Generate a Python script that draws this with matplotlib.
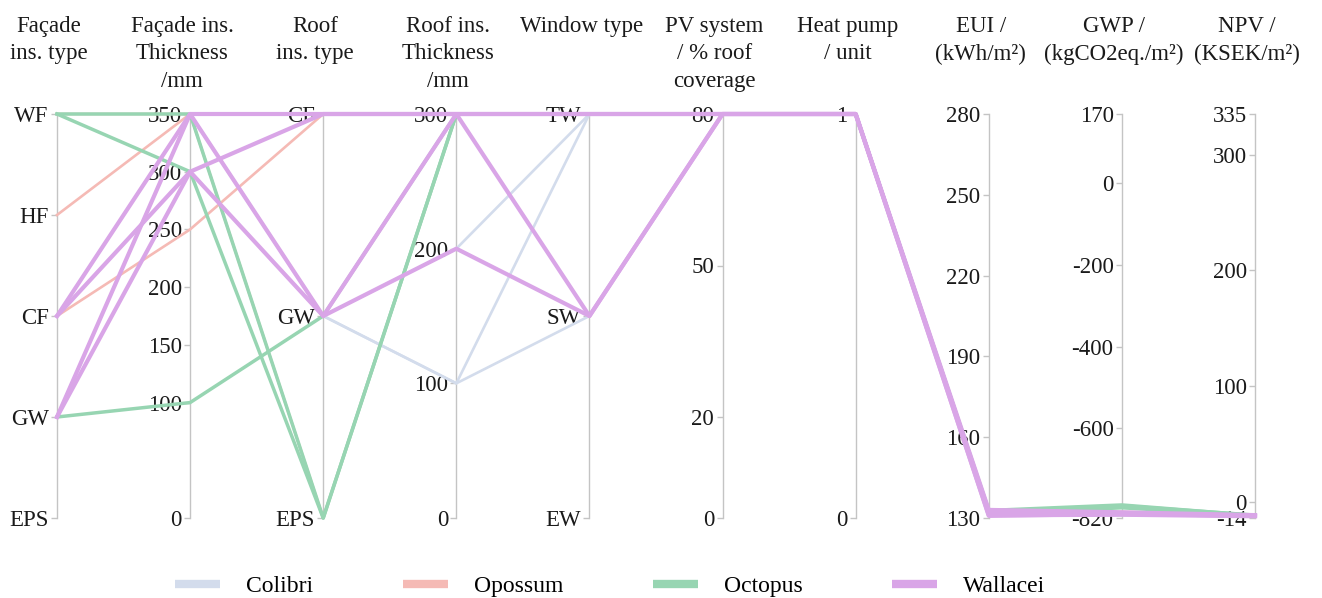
import numpy as np
import matplotlib
matplotlib.use('Agg')
import matplotlib.pyplot as plt
from matplotlib.lines import Line2D

plt.rcParams['font.family'] = ['Liberation Serif', 'DejaVu Serif']

# axis titles, left to right
titles = ['Façade\nins. type', 'Façade ins.\nThickness\n/mm', 'Roof\nins. type',
          'Roof ins.\nThickness\n/mm', 'Window type', 'PV system\n/ % roof\ncoverage',
          'Heat pump\n/ unit', 'EUI /\n(kWh/m²)', 'GWP /\n(kgCO2eq./m²)', 'NPV /\n(KSEK/m²)']

facade_types = ['EPS', 'GW', 'CF', 'HF', 'WF']
roof_types = ['EPS', 'GW', 'CF']
window_types = ['EW', 'SW', 'TW']
categories = {0: facade_types, 2: roof_types, 4: window_types}

y_min = [0, 0, 0, 0, 0, 0, 0, 130, -820, -14]
y_max = [4, 350, 2, 300, 2, 80, 1, 280, 170, 335]
ticks = [None,
         [0, 100, 150, 200, 250, 300, 350],
         None,
         [0, 100, 200, 300],
         None,
         [0, 20, 50, 80],
         [0, 1],
         [130, 160, 190, 220, 250, 280],
         [-820, -600, -400, -200, 0, 170],
         [-14, 0, 100, 200, 300, 335]]

# one row per design: façade type, façade thk, roof type, roof thk, window,
# PV %, heat pump, EUI, GWP, NPV
colibri = [
    ['GW', 350, 'GW', 100, 'TW', 80, 1, 131.5, -812, -12],
    ['CF', 300, 'GW', 100, 'SW', 80, 1, 131.8, -810, -12],
    ['CF', 350, 'GW', 200, 'TW', 80, 1, 131.2, -813, -12.5],
]
opossum = [
    ['HF', 350, 'CF', 300, 'TW', 80, 1, 132.0, -808, -11.5],
    ['CF', 250, 'CF', 300, 'TW', 80, 1, 132.2, -806, -11.5],
    ['WF', 350, 'EPS', 300, 'TW', 80, 1, 132.4, -805, -11],
]
octopus = [
    ['WF', 350, 'EPS', 300, 'TW', 80, 1, 132.5, -790, -11.5],
    ['WF', 300, 'EPS', 300, 'TW', 80, 1, 132.8, -788, -11.8],
    ['GW', 100, 'GW', 300, 'TW', 80, 1, 131.5, -795, -12],
]
wallacei = [
    ['CF', 350, 'CF', 300, 'TW', 80, 1, 133.0, -806, -11.5],
    ['CF', 300, 'GW', 300, 'SW', 80, 1, 132.0, -808, -12],
    ['GW', 350, 'GW', 200, 'SW', 80, 1, 131.0, -812, -12.5],
    ['GW', 300, 'CF', 300, 'TW', 80, 1, 130.8, -810, -12],
]

series = [('Colibri', colibri, '#d3dcec', 1.9),
          ('Opossum', opossum, '#f5bab5', 1.9),
          ('Octopus', octopus, '#97d5b2', 2.5),
          ('Wallacei', wallacei, '#d9a5e7', 3.0)]


def to_number(i, v):
    if i in categories:
        return categories[i].index(v)
    return v


def normalise(row):
    out = []
    for i, v in enumerate(row):
        x = to_number(i, v)
        out.append((x - y_min[i]) / (y_max[i] - y_min[i]))
    return out


fig = plt.figure(figsize=(13.22, 5.98), dpi=100)
left, right = 57 / 1322, 1255 / 1322
bottom, top = 1 - 518 / 598, 1 - 114 / 598
rect = [left, bottom, right - left, top - bottom]
n = len(titles)

host = fig.add_axes(rect)
host.set_xlim(0, n - 1)
host.axis('off')

# one y axis per variable
for i in range(n):
    ax = host.twinx()
    ax.set_ylim(y_min[i], y_max[i])
    for s in ['top', 'right', 'bottom']:
        ax.spines[s].set_visible(False)
    ax.spines['left'].set_position(('data', i))
    ax.spines['left'].set_color('#c4c4c4')
    ax.spines['left'].set_linewidth(1.0)
    ax.yaxis.set_ticks_position('left')
    ax.yaxis.set_label_position('left')
    ax.patch.set_visible(False)
    if i in categories:
        ax.set_yticks(range(len(categories[i])))
        ax.set_yticklabels(categories[i])
    else:
        ax.set_yticks(ticks[i])
        ax.set_yticklabels([str(t) for t in ticks[i]])
    ax.tick_params(axis='y', length=4, width=1, color='#c4c4c4',
                   labelsize=16.5, labelcolor='#1a1a1a', pad=2)
    fig.text(left + (right - left) * i / (n - 1) - 8 / 1322, 1 - 16 / 598, titles[i],
             ha='center', va='top', fontsize=16.5, color='#1a1a1a', linespacing=1.4)

# polylines drawn on top of the axes
lines_ax = fig.add_axes(rect)
lines_ax.set_xlim(0, n - 1)
lines_ax.set_ylim(0, 1)
lines_ax.axis('off')
xs = np.arange(n)
for name, rows, color, lw in series:
    for row in rows:
        lines_ax.plot(xs, normalise(row), color=color, lw=lw, solid_joinstyle='round',
                      clip_on=False)

handles = [Line2D([0], [0], color=c, lw=6, solid_capstyle='butt') for _, _, c, _ in series]
fig.legend(handles, [s[0] for s in series], loc='center', bbox_to_anchor=(0.4615, 0.02),
           ncol=4, frameon=False, fontsize=17, handlelength=1.9, handletextpad=1.1,
           columnspacing=3.8)

fig.savefig('out.png', dpi=100)
